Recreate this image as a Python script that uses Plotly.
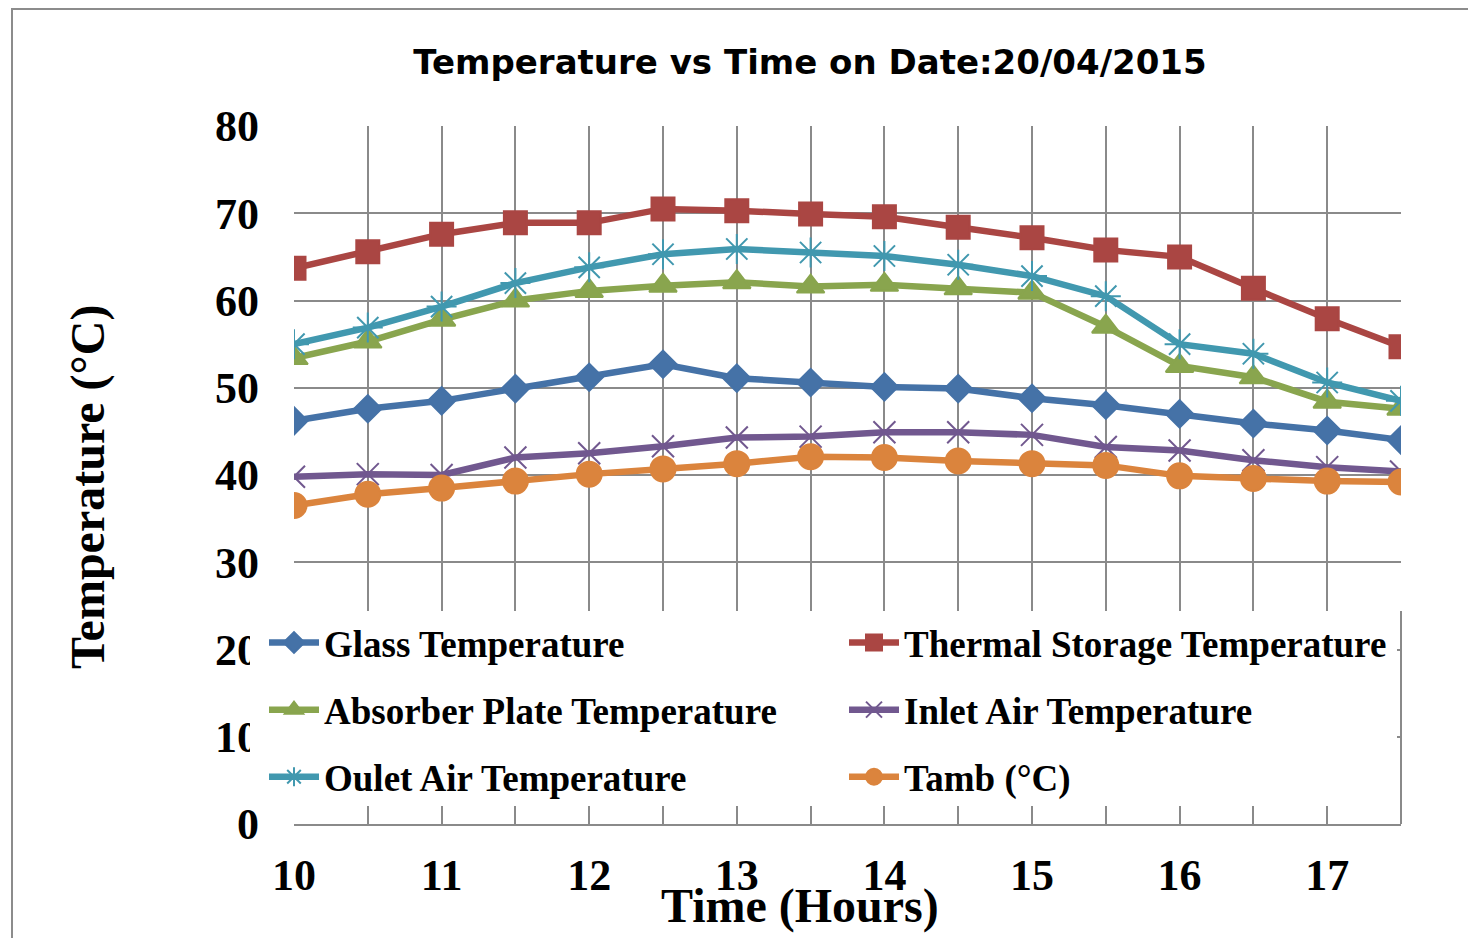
import plotly.graph_objects as go

hours = [10, 10.5, 11, 11.5, 12, 12.5, 13, 13.5, 14, 14.5, 15, 15.5, 16, 16.5, 17, 17.5]
glass = [46.2, 47.6, 48.5, 49.9, 51.2, 52.7, 51.1, 50.6, 50.1, 49.9, 48.8, 48.0, 47.0, 45.9, 45.1, 44.0]
thermal = [63.7, 65.6, 67.6, 68.9, 68.9, 70.5, 70.3, 69.9, 69.6, 68.4, 67.2, 65.8, 65.0, 61.4, 57.9, 54.7]
absorber = [53.4, 55.3, 57.8, 60.0, 61.1, 61.7, 62.1, 61.6, 61.8, 61.4, 60.9, 57.0, 52.5, 51.2, 48.4, 47.6]
inlet = [39.8, 40.1, 40.0, 42.0, 42.5, 43.3, 44.3, 44.4, 44.9, 44.9, 44.6, 43.2, 42.8, 41.7, 40.9, 40.4]
outlet = [55.0, 56.9, 59.3, 62.0, 63.8, 65.3, 65.9, 65.5, 65.1, 64.1, 62.8, 60.5, 55.0, 53.9, 50.6, 48.5]
tamb = [36.5, 37.8, 38.5, 39.3, 40.1, 40.7, 41.3, 42.1, 42.0, 41.6, 41.3, 41.1, 39.9, 39.6, 39.3, 39.2]

x_ticks = [10, 11, 12, 13, 14, 15, 16, 17]
y_ticks = [0, 10, 20, 30, 40, 50, 60, 70, 80]

series = [
    ("Glass Temperature", glass, "#4572A7", "diamond", 21, "legend"),
    ("Thermal Storage Temperature", thermal, "#AA4643", "square", 23, "legend2"),
    ("Absorber Plate Temperature", absorber, "#89A54E", "triangle-up", 24, "legend"),
    ("Inlet Air Temperature", inlet, "#71588F", "x-thin-open", 22, "legend2"),
    ("Oulet Air Temperature", outlet, "#4198AF", "asterisk-open", 25, "legend"),
    ("Tamb (°C)", tamb, "#DB843D", "circle", 25, "legend2"),
]

fig = go.Figure()
for i, (name, vals, color, sym, size, leg) in enumerate(series):
    fig.add_trace(go.Scatter(
        x=hours, y=vals, name=name, mode="lines+markers",
        line=dict(color=color, width=6.5),
        marker=dict(symbol=sym, size=size, color=color,
                    line=dict(color=color, width=2)),
        legend=leg, legendgroup=f"g{i}",
    ))

# figure is placed at an 8px page offset; coordinates below are page pixels
W, H = 1468, 930
L, R, T, B = 294, 1401, 126, 824
pw, ph = R - L, B - T
def px(x): return (x - L) / pw
def py(y): return (B - y) / ph

grid = "#8a8a8a"
tickfont = dict(family="Liberation Serif", size=44, color="black", weight="bold")
legfont = dict(family="Liberation Serif", size=37, color="black", weight="bold")

fig.update_layout(
    width=W, height=H,
    margin=dict(l=L - 8, r=W - (R - 8), t=T - 8, b=H - (B - 8)),
    paper_bgcolor="white", plot_bgcolor="white",
    title=dict(text="Temperature vs Time on Date:20/04/2015",
               font=dict(family="DejaVu Sans", size=34, color="black", weight="bold"),
               x=px(810), xref="paper", xanchor="center",
               y=1 - 54 / H, yref="container", yanchor="middle"),
    xaxis=dict(range=[10, 17.5], tickmode="array", tickvals=x_ticks,
               ticktext=[str(v) for v in x_ticks],
               tickfont=tickfont, showgrid=True, gridcolor=grid, gridwidth=2,
               showline=True, linecolor=grid, linewidth=2,
               ticks="inside", ticklen=16, tickcolor=grid, tickwidth=2,
               ticklabelstandoff=11, zeroline=False,
               minor=dict(dtick=0.5, tick0=10, showgrid=True, gridcolor=grid,
                          gridwidth=2, ticks="inside", ticklen=16,
                          tickcolor=grid, tickwidth=2)),
    yaxis=dict(range=[0, 80], tickmode="array", tickvals=y_ticks,
               ticktext=[str(v) for v in y_ticks],
               tickfont=tickfont, showgrid=True, gridcolor=grid, gridwidth=2,
               showline=False, zeroline=False, ticks="",
               ticklabelstandoff=34),
    legend=dict(x=px(264), y=py(612), xanchor="left", yanchor="top",
                orientation="v", bgcolor="rgba(0,0,0,0)", font=legfont,
                tracegroupgap=16, itemwidth=50),
    legend2=dict(x=px(844), y=py(612), xanchor="left", yanchor="top",
                 orientation="v", bgcolor="rgba(0,0,0,0)", font=legfont,
                 tracegroupgap=16, itemwidth=50),
    shapes=[
        dict(type="rect", xref="paper", yref="paper",
             x0=px(250), x1=px(1397), y0=py(806), y1=py(611),
             fillcolor="white", line=dict(width=0), layer="above"),
        dict(type="line", xref="paper", yref="paper",
             x0=1, x1=1, y0=0, y1=py(611),
             line=dict(color=grid, width=2), layer="above"),
        dict(type="rect", xref="paper", yref="paper",
             x0=px(12), x1=px(1500), y0=py(960), y1=py(9),
             fillcolor="rgba(0,0,0,0)", line=dict(color="#8c8c8c", width=2),
             layer="above"),
    ],
    annotations=[
        dict(text="Temperature (°C)", xref="paper", yref="paper",
             x=px(88), y=py(487), textangle=-90, showarrow=False,
             font=dict(family="Liberation Serif", size=48, color="black", weight="bold"),
             xanchor="center", yanchor="middle"),
        dict(text="Time (Hours)", xref="paper", yref="paper",
             x=px(800), y=py(906), showarrow=False,
             font=dict(family="Liberation Serif", size=48, color="black", weight="bold"),
             xanchor="center", yanchor="middle"),
    ],
)

fig.write_html("out.html")
